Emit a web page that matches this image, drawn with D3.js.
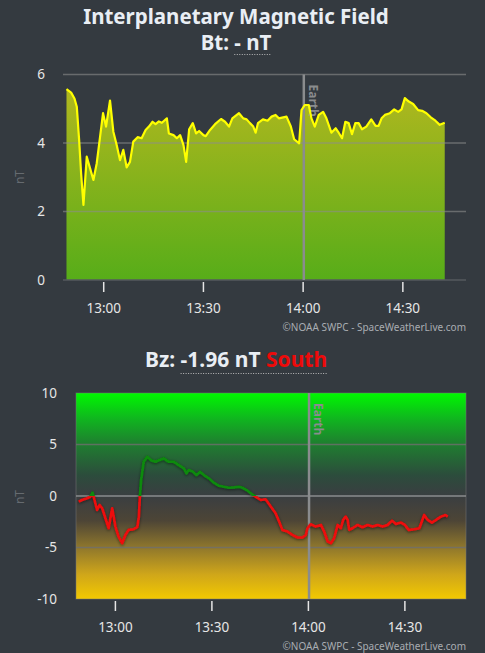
<!DOCTYPE html>
<html>
<head>
<meta charset="utf-8">
<script src="https://cdn.jsdelivr.net/npm/d3@7"></script>
<style>
  html, body { margin: 0; padding: 0; background: #343a40; }
  svg { display: block; font-family: "Noto Sans", "Open Sans", sans-serif; }
</style>
</head>
<body>
<svg id="chart" width="485" height="653"></svg>
<script>
// minutes after 12:00
const btMinutes = [48.8, 50.2, 51.2, 51.9, 52.6, 53.2, 53.9, 54.9, 55.9, 56.9, 57.9, 58.9, 59.8, 60.7, 61.9, 62.9, 63.9, 64.9, 65.9, 66.9,
  67.9, 68.9, 70.2, 71.4, 72.6, 73.6, 74.7, 75.6, 76.6, 77.5, 79.0, 79.6, 81.0, 82.0, 83.0, 84.0, 84.8, 85.7, 86.8, 87.8,
  88.7, 90.0, 90.7, 92.0, 93.5, 95.3, 96.5, 97.7, 98.7, 100.7, 102.0, 103.0, 104.0, 105.0, 105.7, 106.4, 107.9, 109.3, 110.5, 111.7,
  112.7, 114.0, 115.0, 116.3, 117.3, 118.8, 119.5, 120.5, 121.7, 122.5, 123.5, 124.7, 126.0, 127.0, 128.5, 129.8, 130.7, 131.7, 132.7, 133.7,
  134.7, 135.7, 136.7, 137.7, 139.0, 140.5, 141.8, 142.7, 143.6, 144.6, 146.1, 147.4, 148.6, 149.6, 150.6, 151.8, 153.1, 154.6, 155.8, 157.1,
  158.4, 159.8, 161.1, 162.6];
const btValues = [5.57, 5.47, 5.3, 5.06, 4.09, 3.11, 2.19, 3.6, 3.26, 2.92, 3.41, 4.18, 4.87, 4.48, 5.24, 4.33, 3.94, 3.5, 3.8, 3.29,
  3.45, 4.04, 4.17, 4.14, 4.38, 4.48, 4.62, 4.55, 4.63, 4.59, 4.72, 4.28, 4.23, 4.14, 4.23, 3.94, 3.45, 4.4, 4.58, 4.28,
  4.35, 4.23, 4.2, 4.38, 4.55, 4.7, 4.62, 4.48, 4.72, 4.87, 4.72, 4.69, 4.58, 4.48, 4.3, 4.58, 4.69, 4.65, 4.77, 4.82,
  4.72, 4.75, 4.77, 4.48, 4.11, 3.99, 4.96, 5.11, 5.11, 4.72, 4.48, 4.82, 4.91, 4.72, 4.3, 4.43, 4.3, 4.14, 4.62, 4.58,
  4.26, 4.58, 4.58, 4.4, 4.48, 4.69, 4.5, 4.5, 4.72, 4.82, 4.87, 4.98, 4.91, 4.98, 5.31, 5.21, 5.14, 4.96, 4.94, 4.87,
  4.75, 4.65, 4.53, 4.59];

const bzMinutes = [48.6, 49.6, 51.2, 52.2, 52.9, 53.5, 54.3, 55.1, 55.9, 56.9, 57.9, 59.0, 60.0, 61.0, 62.1, 63.1, 64.1, 65.7, 66.8, 67.3,
  67.6, 68.0, 68.8, 69.9, 71.1, 72.5, 73.5, 75.0, 76.6, 78.2, 79.7, 81.3, 82.1, 82.8, 84.2, 85.2, 86.3, 87.5, 89.1, 90.6,
  92.2, 93.7, 95.3, 96.9, 98.4, 99.5, 100.8, 102.1, 103.6, 105.2, 106.7, 108.3, 109.8, 110.9, 111.9, 113.5, 115.0, 116.6, 118.2, 119.2,
  119.7, 120.7, 122.3, 123.9, 124.9, 126.0, 127.0, 128.0, 129.1, 130.1, 130.8, 131.6, 132.2, 132.7, 133.7, 135.3, 136.8, 138.4, 140.0, 141.5,
  143.1, 144.6, 146.0, 147.2, 148.8, 150.0, 151.2, 152.9, 154.5, 156.0, 157.1, 158.4, 159.7, 161.2, 162.6, 163.3];
const bzValues = [-0.55, -0.39, -0.22, -0.07, 0.32, -0.39, -1.36, -0.87, -1.19, -2.16, -3.13, -1.19, -2.97, -3.94, -4.58, -3.78, -3.29, -3.22, -3.03, -2.0,
  -0.07, 1.55, 3.32, 3.8, 3.48, 3.32, 3.48, 3.65, 3.32, 3.32, 3.0, 2.68, 2.2, 2.52, 2.35, 2.03, 2.35, 2.03, 1.71, 1.29,
  0.99, 0.9, 0.8, 0.84, 0.9, 0.8, 0.58, 0.26, -0.07, -0.39, -0.32, -1.03, -1.68, -2.48, -3.29, -3.45, -3.78, -4.03, -4.03, -3.78,
  -3.13, -2.74, -2.97, -2.81, -3.45, -4.42, -4.58, -4.1, -2.81, -3.13, -2.32, -2.0, -2.32, -3.29, -3.13, -2.81, -3.03, -2.81, -2.97, -2.81,
  -2.97, -2.81, -2.39, -2.71, -2.58, -2.81, -3.29, -3.22, -3.13, -1.84, -2.32, -2.58, -2.32, -2.0, -1.84, -2.0];

const btTicks = [0, 2, 4, 6];
const bzTicks = [-10, -5, 0, 5, 10];
const timeTicks = ["13:00", "13:30", "14:00", "14:30"];
const earthTime = 120.2;
const domainMinutes = [47.75, 169.0];

const base = new Date(2024, 0, 1, 12, 0, 0);
const toDate = m => new Date(base.getTime() + m * 60000);
const parseHM = s => { const p = s.split(":"); return new Date(2024, 0, 1, +p[0], +p[1]); };
const fmt = d3.timeFormat("%H:%M");

const svg = d3.select("#chart");
const defs = svg.append("defs");

// titles
svg.append("text").attr("x", 236).attr("y", 24).attr("text-anchor", "middle")
  .attr("fill", "#e9eef4").attr("font-size", 20.5).attr("font-weight", "bold")
  .text("Interplanetary Magnetic Field");

let bt = svg.append("text").attr("x", 236).attr("y", 50).attr("text-anchor", "middle")
  .attr("fill", "#e9eef4").attr("font-size", 20.5).attr("font-weight", "bold");
bt.append("tspan").text("Bt: ");
bt.append("tspan").attr("id", "btval").text("- nT");

let bz = svg.append("text").attr("x", 236).attr("y", 367).attr("text-anchor", "middle")
  .attr("fill", "#e9eef4").attr("font-size", 21).attr("font-weight", "bold");
bz.append("tspan").text("Bz: ");
bz.append("tspan").attr("id", "bzval").text("-1.96 nT ");
bz.append("tspan").attr("id", "bzdir").attr("fill", "#ee0a0a").text("South");

function underline(startId, endId, y) {
  let a = document.getElementById(startId).getBBox();
  let b = document.getElementById(endId).getBBox();
  svg.append("line").attr("x1", a.x).attr("x2", b.x + b.width).attr("y1", y).attr("y2", y)
    .attr("stroke", "#bbb").attr("stroke-width", 1).attr("stroke-dasharray", "1,1.5");
}
underline("btval", "btval", 54.5);
underline("bzval", "bzdir", 373.5);

function credit(y) {
  svg.append("text").attr("x", 466).attr("y", y).attr("text-anchor", "end")
    .attr("fill", "#a9adb2").attr("font-size", 10)
    .text("©NOAA SWPC - SpaceWeatherLive.com");
}

function timeAxis(g, x, y0) {
  timeTicks.forEach(t => {
    let px = x(parseHM(t));
    g.append("line").attr("x1", px).attr("x2", px).attr("y1", y0 + 2).attr("y2", y0 + 12)
      .attr("stroke", "#e6e6e6").attr("stroke-width", 1.5);
    g.append("text").attr("x", px).attr("y", y0 + 33).attr("text-anchor", "middle")
      .attr("fill", "#e6e6e6").attr("font-size", 13.5).text(fmt(parseHM(t)));
  });
}

function yAxis(g, y, ticks, xRight, labelY) {
  ticks.forEach(t => {
    g.append("text").attr("x", xRight).attr("y", y(t)).attr("dy", "0.35em").attr("text-anchor", "end")
      .attr("fill", "#e6e6e6").attr("font-size", 13.5).text(t);
  });
  g.append("text").attr("transform", "translate(24," + labelY + ") rotate(-90)")
    .attr("text-anchor", "middle").attr("fill", "#666b70").attr("font-size", 12).text("nT");
}

function earth(g, px, y1, y2) {
  g.append("line").attr("x1", px).attr("x2", px).attr("y1", y1).attr("y2", y2)
    .attr("stroke", "#8a8c8e").attr("stroke-width", 2.5);
  g.append("text").attr("transform", "translate(" + (px + 5) + "," + (y1 + 10) + ") rotate(90)")
    .attr("fill", "#8a8c8e").attr("font-size", 12).attr("font-weight", "bold").text("Earth");
}

// ---------- Bt chart ----------
{
  const g = svg.append("g");
  const x = d3.scaleTime().domain(domainMinutes.map(toDate)).range([63, 466]);
  const y = d3.scaleLinear().domain([0, 6]).range([280, 74.5]);
  const data = btMinutes.map((m, i) => ({ t: toDate(m), v: btValues[i] }));

  let grad = defs.append("linearGradient").attr("id", "btFill")
    .attr("gradientUnits", "userSpaceOnUse").attr("x1", 0).attr("x2", 0).attr("y1", y(6)).attr("y2", y(0));
  grad.append("stop").attr("offset", "0%").attr("stop-color", "#b7b81f");
  grad.append("stop").attr("offset", "100%").attr("stop-color", "#57ad19");

  g.append("path").datum(data)
    .attr("fill", "url(#btFill)")
    .attr("d", d3.area().x(d => x(d.t)).y0(y(0)).y1(d => y(d.v)));

  btTicks.forEach(t => {
    g.append("line").attr("x1", 63).attr("x2", 466).attr("y1", y(t)).attr("y2", y(t))
      .attr("stroke", t === 0 ? "#555a5e" : "rgba(140,140,140,0.6)").attr("stroke-width", 1.5);
  });

  earth(g, x(toDate(earthTime)), y(6), y(0));

  g.append("path").datum(data)
    .attr("fill", "none").attr("stroke", "#ffff00").attr("stroke-width", 2.2)
    .attr("stroke-linejoin", "round")
    .attr("d", d3.line().x(d => x(d.t)).y(d => y(d.v)));

  yAxis(g, y, btTicks, 45, 177);
  timeAxis(g, x, 280);
  credit(331);
}

// ---------- Bz chart ----------
{
  const g = svg.append("g");
  const x = d3.scaleTime().domain(domainMinutes.map(toDate)).range([76, 466]);
  const y = d3.scaleLinear().domain([-10, 10]).range([599, 393]);
  const data = bzMinutes.map((m, i) => ({ t: toDate(m), v: bzValues[i] }));

  let grad = defs.append("linearGradient").attr("id", "bzFill")
    .attr("gradientUnits", "userSpaceOnUse").attr("x1", 0).attr("x2", 0).attr("y1", y(10)).attr("y2", y(-10));
  [["0%", "#00f800"], ["12%", "#0fb81e"], ["25%", "#1f7d30"], ["40%", "#2c4c3c"], ["50%", "#3a3e41"],
   ["62%", "#4d4536"], ["75%", "#8f772c"], ["88%", "#cfa61a"], ["100%", "#f3c900"]]
    .forEach(s => grad.append("stop").attr("offset", s[0]).attr("stop-color", s[1]));

  g.append("rect").attr("x", 76).attr("y", y(10)).attr("width", 466 - 76).attr("height", y(-10) - y(10))
    .attr("fill", "url(#bzFill)").attr("stroke", "rgba(120,120,120,0.5)").attr("stroke-width", 1);

  [5, 0, -5].forEach(t => {
    g.append("line").attr("x1", 76).attr("x2", 466).attr("y1", y(t)).attr("y2", y(t))
      .attr("stroke", t === 0 ? "#8a8c8e" : "rgba(110,110,110,0.8)").attr("stroke-width", 1.5);
  });

  earth(g, x(toDate(earthTime)), y(10), y(-10));

  let f = defs.append("filter").attr("id", "glow").attr("x", "-10%").attr("y", "-20%").attr("width", "120%").attr("height", "140%");
  f.append("feDropShadow").attr("dx", 0).attr("dy", 1).attr("stdDeviation", 1.5).attr("flood-color", "#000").attr("flood-opacity", 0.5);

  defs.append("clipPath").attr("id", "above").append("rect")
    .attr("x", 0).attr("y", 0).attr("width", 485).attr("height", y(0));
  defs.append("clipPath").attr("id", "below").append("rect")
    .attr("x", 0).attr("y", y(0)).attr("width", 485).attr("height", 653 - y(0));

  const line = d3.line().x(d => x(d.t)).y(d => y(d.v));
  let lg = g.append("g").attr("filter", "url(#glow)");
  lg.append("path").datum(data).attr("clip-path", "url(#above)")
    .attr("fill", "none").attr("stroke", "#0a8a0a").attr("stroke-width", 2.6).attr("stroke-linejoin", "round").attr("d", line);
  lg.append("path").datum(data).attr("clip-path", "url(#below)")
    .attr("fill", "none").attr("stroke", "#ee0a0a").attr("stroke-width", 2.6).attr("stroke-linejoin", "round").attr("d", line);

  yAxis(g, y, bzTicks, 57, 497);
  timeAxis(g, x, 599);
  credit(650);
}
</script>
</body>
</html>
